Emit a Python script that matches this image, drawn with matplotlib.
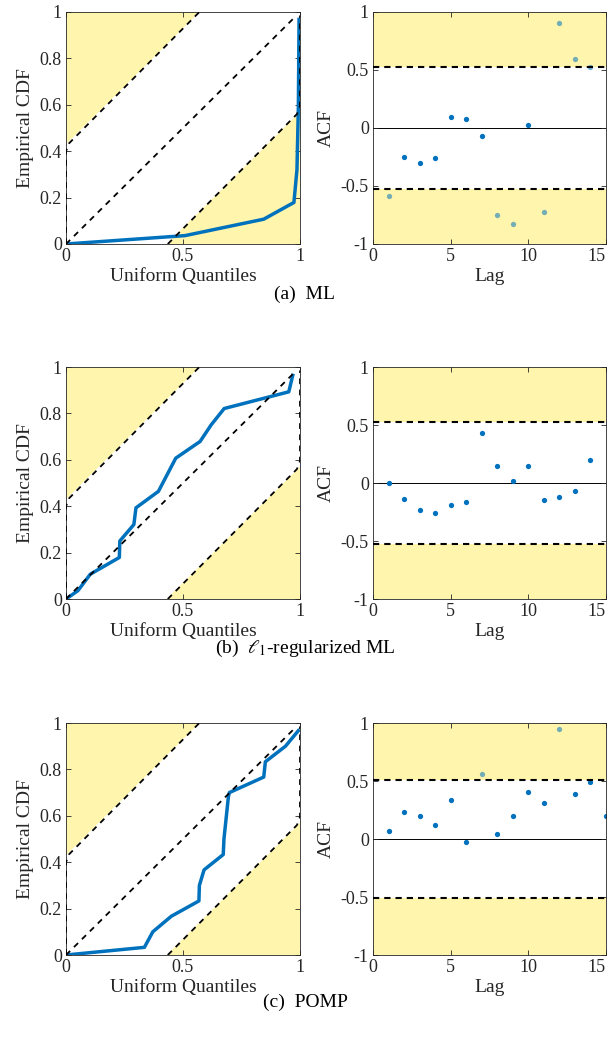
import numpy as np
import matplotlib
matplotlib.use('Agg')
import matplotlib.pyplot as plt

plt.rcParams['font.family'] = ['Liberation Serif', 'DejaVu Serif']
plt.rcParams['mathtext.fontset'] = 'stix'
plt.rcParams['axes.unicode_minus'] = False

# empirical CDF vs uniform quantiles
ml_x = [0, 0.508, 0.845, 0.974, 0.987, 0.993, 0.996]
ml_y = [0, 0.036, 0.107, 0.179, 0.32, 0.59, 0.968]

l1_x = [0, 0.051, 0.104, 0.228, 0.230, 0.290, 0.299, 0.395, 0.469, 0.573, 0.620, 0.676, 0.952, 0.969]
l1_y = [0, 0.036, 0.107, 0.179, 0.250, 0.321, 0.393, 0.464, 0.607, 0.679, 0.750, 0.821, 0.893, 0.964]

pomp_x = [0, 0.335, 0.371, 0.450, 0.568, 0.570, 0.590, 0.672, 0.675, 0.694, 0.698, 0.845, 0.852, 0.938, 0.993]
pomp_y = [0, 0.033, 0.100, 0.167, 0.233, 0.300, 0.367, 0.433, 0.500, 0.682, 0.700, 0.767, 0.833, 0.900, 0.967]

# confidence band lines
upper_x = [0, 0, 0.014, 0.57]
upper_y = [0, 0.40, 0.435, 1.0]
lower_x = [0.435, 0.987, 1.0, 1.0]
lower_y = [0, 0.56, 0.595, 0.985]
diag_x = [0, 0.985]
diag_y = [0, 0.985]

# autocorrelation per lag
lags_ml = np.arange(1, 15)
acf_ml = [-0.589, -0.249, -0.306, -0.260, 0.094, 0.076, -0.070, -0.747, -0.824, 0.030, -0.727, 0.902, 0.597, 0.528]
lags_l1 = np.arange(1, 15)
acf_l1 = [0.0, -0.14, -0.229, -0.255, -0.186, -0.165, 0.427, 0.145, 0.019, 0.145, -0.145, -0.119, -0.071, 0.197]
lags_pomp = np.arange(1, 16)
acf_pomp = [0.07, 0.229, 0.197, 0.122, 0.332, -0.024, 0.563, 0.045, 0.197, 0.402, 0.312, 0.951, 0.384, 0.491, 0.197]
bands = [0.523, 0.522, 0.508]

captions = ['(a)  ML', r'(b)  $\ell_1$-regularized ML', '(c)  POMP']

blue = '#0072BD'
yellow = (1.0, 0.9, 0.15)
grey = '#262626'

W, H = 610, 1044
fig = plt.figure(figsize=(W / 100, H / 100), dpi=100)


def style(ax):
    for s in ax.spines.values():
        s.set_color(grey)
        s.set_linewidth(0.6)
    ax.tick_params(direction='in', top=True, right=True, length=3.5, width=0.6,
                   colors=grey, labelsize=13, pad=3)


def cdf_panel(ax, x, y):
    ax.fill([0, 0.57, 0], [0.43, 1, 1], color=yellow, alpha=0.38, lw=0, zorder=1)
    ax.fill([0.43, 1, 1], [0, 0.57, 0], color=yellow, alpha=0.38, lw=0, zorder=1)
    ax.plot(x, y, color=blue, lw=2.5, zorder=3)
    for bx, by in [(upper_x, upper_y), (lower_x, lower_y), (diag_x, diag_y)]:
        ax.plot(bx, by, color='black', lw=1.3, dashes=(3.2, 3), zorder=4)
    ax.set_xlim(0, 1)
    ax.set_ylim(0, 1)
    ax.set_xticks([0, 0.5, 1])
    ax.set_xticklabels(['0', '0.5', '1'])
    ax.set_yticks([0, 0.2, 0.4, 0.6, 0.8, 1])
    ax.set_yticklabels(['0', '0.2', '0.4', '0.6', '0.8', '1'])
    ax.set_xlabel('Uniform Quantiles', fontsize=14, color=grey, labelpad=2)
    ax.set_ylabel('Empirical CDF', fontsize=14, color=grey, labelpad=4)
    style(ax)


def acf_panel(ax, lags, acf, b):
    acf = np.array(acf)
    out = np.abs(acf) > b
    ax.plot(lags[~out], acf[~out], 'o', color=blue, ms=3.8, mew=0, zorder=2)
    ax.fill_between([0, 15], b, 1, color=yellow, alpha=0.38, lw=0, zorder=1)
    ax.fill_between([0, 15], -1, -b, color=yellow, alpha=0.38, lw=0, zorder=1)
    # points in the shaded zone look washed out in the original
    ax.plot(lags[out], acf[out], 'o', color=blue, alpha=0.55, ms=3.8, mew=0, zorder=2)
    ax.axhline(0, color='black', lw=0.7, zorder=1.5)
    ax.axhline(b, color='black', lw=1.5, dashes=(3, 2.4), zorder=4)
    ax.axhline(-b, color='black', lw=1.5, dashes=(3, 2.4), zorder=4)
    ax.set_xlim(0, 15)
    ax.set_ylim(-1, 1)
    ax.set_xticks([0, 5, 10, 15])
    ax.set_yticks([-1, -0.5, 0, 0.5, 1])
    ax.set_yticklabels(['-1', '-0.5', '0', '0.5', '1'])
    ax.set_xlabel('Lag', fontsize=14, color=grey, labelpad=2)
    ax.set_ylabel('ACF', fontsize=14, color=grey, labelpad=4)
    style(ax)
    ax.get_xticklabels()[-1].set_ha('right')


tops = [12, 367, 723]
cdfs = [(ml_x, ml_y), (l1_x, l1_y), (pomp_x, pomp_y)]
acfs = [(lags_ml, acf_ml), (lags_l1, acf_l1), (lags_pomp, acf_pomp)]
cap_y = [294, 648, 1002]

for i in range(3):
    h = 232
    b0 = 1 - (tops[i] + h) / H
    axl = fig.add_axes([66 / W, b0, 234 / W, h / H])
    cdf_panel(axl, *cdfs[i])
    axr = fig.add_axes([373 / W, b0, 233 / W, h / H])
    acf_panel(axr, acfs[i][0], acfs[i][1], bands[i])
    fig.text(305 / W, 1 - cap_y[i] / H, captions[i], ha='center', va='center',
             fontsize=14, color='black')

fig.savefig('out.png', dpi=100)
